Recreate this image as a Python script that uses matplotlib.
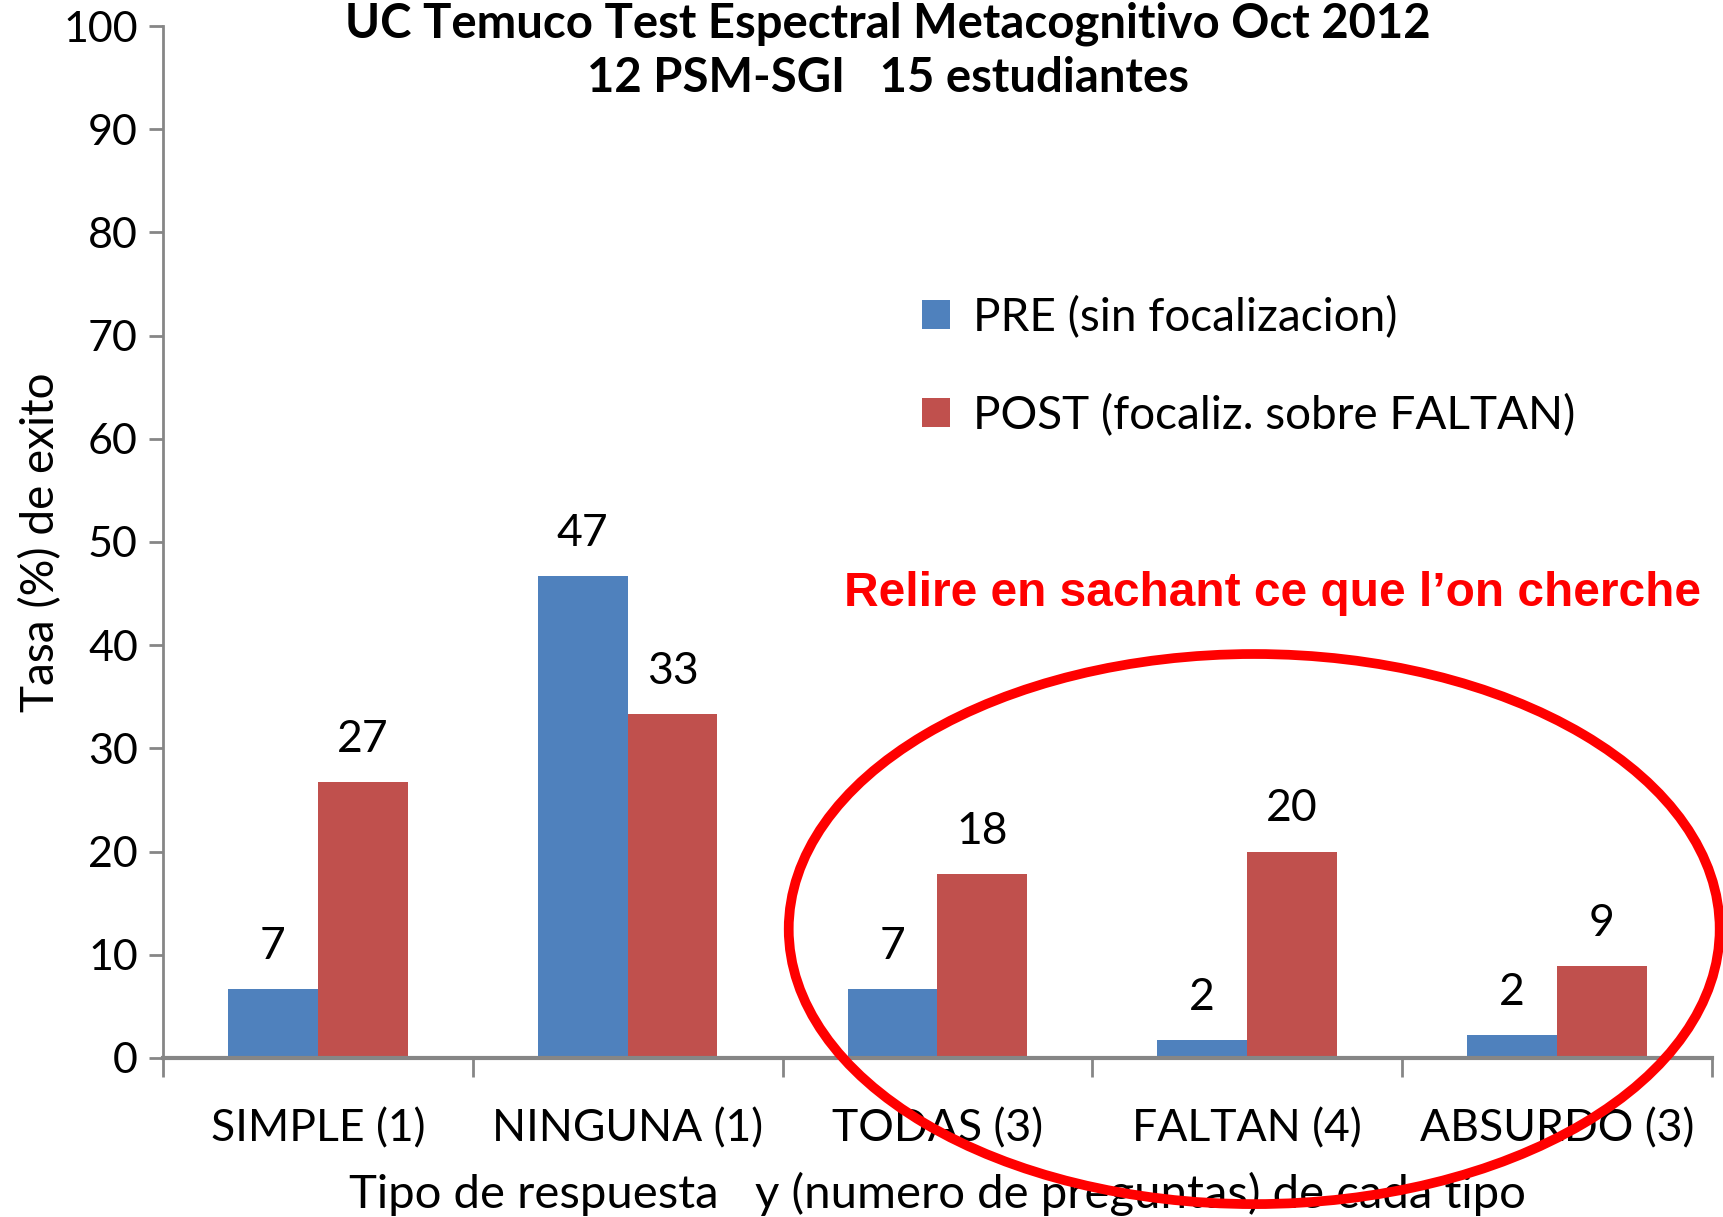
import numpy as np
import matplotlib
matplotlib.use('Agg')
import matplotlib.pyplot as plt
from matplotlib.patches import Ellipse

# Données
categories = ['SIMPLE (1)', 'NINGUNA (1)', 'TODAS (3)', 'FALTAN (4)', 'ABSURDO (3)']
pre = [6.7, 46.7, 6.7, 1.7, 2.2]
post = [26.7, 33.3, 17.8, 20.0, 8.9]
labels_series = ['PRE (sin focalizacion)', 'POST (focaliz. sobre FALTAN)']

plt.rcParams['font.family'] = ['Lato', 'DejaVu Sans']

fig = plt.figure(figsize=(17.24, 12.17), dpi=100)
ax = fig.add_axes([0.0945, 0.1307, 0.8985, 0.8479])

x = np.arange(len(categories))
w = 0.29
b1 = ax.bar(x - w / 2, pre, w, color='#4F81BD', label=labels_series[0])
b2 = ax.bar(x + w / 2, post, w, color='#C0504D', label=labels_series[1])
ax.bar_label(b1, fmt='%.0f', padding=16, fontsize=32)
ax.bar_label(b2, fmt='%.0f', padding=16, fontsize=32)

ax.set_xlim(-0.5, len(categories) - 0.5)
ax.set_ylim(0, 100)
ax.set_yticks(range(0, 101, 10))
ax.tick_params(axis='y', labelsize=31, length=10, width=2, color='#868686', pad=8)
ax.set_xticks(x)
ax.set_xticklabels(categories, fontsize=32)
ax.tick_params(axis='x', length=0, pad=36)
ax.set_xticks(np.arange(-0.5, len(categories), 1), minor=True)
ax.tick_params(axis='x', which='minor', length=14, width=2, color='#868686')

for s in ['top', 'right']:
    ax.spines[s].set_visible(False)
ax.spines['left'].set_color('#868686')
ax.spines['left'].set_linewidth(2)
ax.spines['bottom'].set_color('#868686')
ax.spines['bottom'].set_linewidth(3)

ax.set_ylabel('Tasa (%) de exito', fontsize=33, labelpad=1)
ax.set_xlabel('Tipo de respuesta   y (numero de preguntas) de cada tipo', fontsize=34, labelpad=16)

fig.text(0.515, 0.999, 'UC Temuco Test Espectral Metacognitivo Oct 2012', fontsize=34,
         fontweight='bold', ha='center', va='top')
fig.text(0.515, 0.936, '12 PSM-SGI   15 estudiantes', fontsize=34,
         fontweight='bold', ha='center', va='center')

ax.legend(loc='upper left', bbox_to_anchor=(0.535, 0.757), bbox_transform=fig.transFigure,
          frameon=False, fontsize=33, handlelength=0.6, handleheight=0.6,
          handletextpad=0.5, labelspacing=1.2, borderpad=0, borderaxespad=0)

fig.text(0.738, 0.512, 'Relire en sachant ce que l\u2019on cherche', fontsize=34.5,
         fontweight='bold', color='#FF0000', family='Liberation Sans',
         ha='center', va='center')

ell = Ellipse((0.7275, 0.2366), width=0.54, height=0.452, transform=fig.transFigure,
              fill=False, edgecolor='#FF0000', linewidth=7, clip_on=False)
fig.add_artist(ell)

fig.savefig('out.png', dpi=100)
